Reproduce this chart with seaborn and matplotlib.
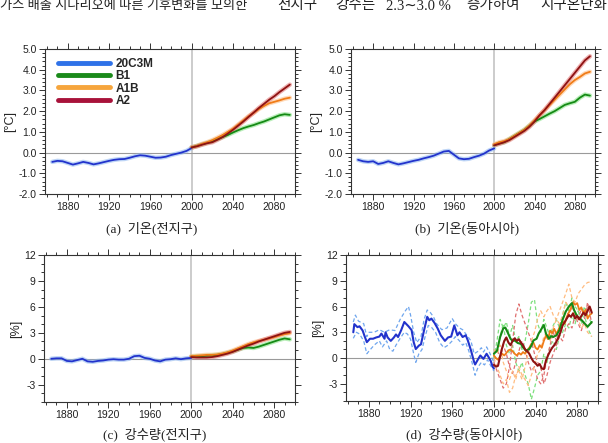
import numpy as np
import pandas as pd
import matplotlib
matplotlib.use("Agg")
import matplotlib.pyplot as plt
from matplotlib.ticker import MultipleLocator, FormatStrFormatter
from matplotlib.lines import Line2D
import seaborn as sns

# --- DATA ---
hist_years = [1865, 1870, 1875, 1880, 1885, 1890, 1895, 1900, 1905, 1910, 1915, 1920, 1925, 1930,
              1935, 1940, 1945, 1950, 1955, 1960, 1965, 1970, 1975, 1980, 1985, 1990, 1995, 2000]
fut_years = [2000, 2005, 2010, 2015, 2020, 2025, 2030, 2035, 2040, 2045, 2050, 2055, 2060, 2065,
             2070, 2075, 2080, 2085, 2090, 2095]

# (a) global temperature [degC]
temp_glob_hist = [-0.45, -0.4, -0.42, -0.5, -0.58, -0.52, -0.45, -0.5, -0.57, -0.52, -0.46, -0.4, -0.35, -0.32,
                  -0.31, -0.25, -0.18, -0.13, -0.15, -0.2, -0.25, -0.24, -0.2, -0.12, -0.06, 0.0, 0.08, 0.22]
temp_glob_b1 = [0.25, 0.32, 0.4, 0.47, 0.55, 0.65, 0.75, 0.85, 0.97, 1.08, 1.18, 1.26, 1.33, 1.42,
                1.5, 1.6, 1.7, 1.8, 1.85, 1.82]
temp_glob_a1b = [0.25, 0.32, 0.42, 0.5, 0.6, 0.72, 0.85, 1.0, 1.15, 1.35, 1.55, 1.75, 1.92, 2.1,
                 2.25, 2.38, 2.45, 2.52, 2.6, 2.65]
temp_glob_a2 = [0.25, 0.3, 0.38, 0.45, 0.5, 0.62, 0.75, 0.92, 1.1, 1.3, 1.5, 1.72, 1.93, 2.15,
                2.35, 2.55, 2.72, 2.92, 3.1, 3.28]

# (b) East Asia temperature [degC]
temp_ea_hist = [-0.35, -0.42, -0.45, -0.42, -0.55, -0.5, -0.42, -0.5, -0.57, -0.52, -0.46, -0.4, -0.35, -0.28,
                -0.22, -0.15, -0.05, 0.05, 0.08, -0.1, -0.28, -0.32, -0.3, -0.22, -0.15, -0.05, 0.1, 0.2]
temp_ea_b1 = [0.35, 0.45, 0.5, 0.65, 0.8, 0.95, 1.1, 1.3, 1.5, 1.62, 1.75, 1.88, 2.0, 2.15,
              2.3, 2.38, 2.45, 2.65, 2.8, 2.75]
temp_ea_a1b = [0.4, 0.5, 0.55, 0.65, 0.8, 0.95, 1.1, 1.3, 1.55, 1.8, 2.05, 2.3, 2.55, 2.8,
               3.05, 3.3, 3.5, 3.65, 3.82, 3.9]
temp_ea_a2 = [0.35, 0.42, 0.5, 0.6, 0.75, 0.9, 1.05, 1.25, 1.5, 1.8, 2.05, 2.35, 2.65, 2.95,
              3.25, 3.55, 3.85, 4.15, 4.45, 4.65]

# (c) global precipitation [%]
prcp_glob_hist = [0.0, 0.05, 0.05, -0.25, -0.3, -0.15, 0.0, -0.3, -0.35, -0.25, -0.2, -0.1, -0.05, -0.1,
                  -0.1, 0.0, 0.3, 0.35, 0.1, 0.0, -0.2, -0.3, -0.1, -0.05, 0.05, -0.05, 0.05, 0.1]
prcp_glob_b1 = [0.25, 0.3, 0.3, 0.35, 0.4, 0.45, 0.55, 0.7, 0.85, 1.05, 1.25, 1.3, 1.25, 1.4,
                1.6, 1.8, 2.0, 2.2, 2.35, 2.25]
prcp_glob_a1b = [0.3, 0.35, 0.4, 0.45, 0.45, 0.5, 0.6, 0.75, 0.95, 1.2, 1.45, 1.7, 1.9, 2.05,
                 2.2, 2.35, 2.5, 2.7, 2.85, 2.95]
prcp_glob_a2 = [0.2, 0.15, 0.15, 0.15, 0.2, 0.3, 0.45, 0.6, 0.8, 1.05, 1.3, 1.55, 1.75, 2.0,
                2.2, 2.4, 2.6, 2.8, 3.0, 3.1]

# (d) East Asia precipitation [%] -- ensemble mean + members
prcp_ea_hist_years = [1865, 1866, 1869, 1871, 1874, 1876, 1878, 1881, 1884, 1887, 1890, 1892, 1895, 1896,
                      1898, 1901, 1904, 1906, 1908, 1911, 1914, 1916, 1918, 1921, 1923, 1925, 1928, 1930,
                      1933, 1936, 1938, 1940, 1943, 1946, 1949, 1953, 1956, 1959, 1962, 1965, 1967, 1970,
                      1973, 1975, 1978, 1981, 1982, 1985, 1987, 1990, 1993, 1995, 1997, 1999, 2000]
prcp_ea_hist = [3.0, 3.95, 3.6, 3.7, 3.2, 2.5, 1.85, 2.25, 2.25, 2.4, 2.5, 2.85, 2.25, 3.0,
                2.4, 2.0, 2.4, 2.75, 2.45, 3.25, 4.2, 3.95, 3.7, 3.25, 1.85, 1.05, 1.45, 1.6,
                3.25, 4.8, 4.4, 4.6, 4.1, 3.45, 2.65, 2.0, 2.4, 2.5, 3.8, 2.65, 3.0, 2.45,
                2.65, 2.05, 0.9, -0.45, -0.75, -0.1, 0.3, -0.1, 0.5, 0.1, -0.35, -1.05, -1.2]
prcp_ea_mem1_years = [1865, 1867, 1870, 1875, 1878, 1880, 1885, 1890, 1895, 1900, 1905, 1910, 1915, 1918,
                      1920, 1923, 1926, 1930, 1933, 1936, 1939, 1942, 1945, 1950, 1955, 1960, 1963, 1967,
                      1970, 1975, 1978, 1981, 1985, 1988, 1990, 1993, 1996, 2000]
prcp_ea_mem1 = [4.2, 5.0, 4.3, 4.0, 2.5, 3.0, 3.0, 3.3, 3.0, 3.3, 3.2, 4.5, 5.5, 6.0,
                5.0, 3.0, 1.8, 2.5, 4.5, 5.6, 5.3, 4.8, 4.0, 3.3, 3.5, 4.6, 4.0, 3.5,
                3.3, 2.5, 2.0, 0.5, 0.8, 1.2, 0.7, 1.3, 0.6, -0.5]
prcp_ea_mem2_years = [1865, 1868, 1871, 1875, 1878, 1880, 1885, 1890, 1893, 1897, 1900, 1903, 1906, 1910,
                      1914, 1917, 1920, 1923, 1925, 1928, 1931, 1934, 1937, 1940, 1944, 1948, 1952, 1956,
                      1960, 1963, 1967, 1970, 1973, 1976, 1979, 1982, 1985, 1988, 1991, 1994, 1997, 2000]
prcp_ea_mem2 = [2.3, 3.0, 2.8, 2.0, 0.5, 0.8, 1.5, 2.0, 1.3, 2.0, 1.0, 0.8, 1.5, 2.3,
                3.0, 2.8, 2.2, 0.5, -0.5, 0.5, 1.0, 2.5, 3.8, 3.6, 3.0, 1.8, 1.2, 1.5,
                2.0, 2.5, 2.0, 1.5, 1.8, 0.8, -0.5, -2.0, -1.0, -0.5, -0.8, -0.2, -0.9, -1.5]

prcp_ea_b1_years = [2000, 2003, 2006, 2009, 2011, 2013, 2016, 2018, 2020, 2023, 2026, 2028, 2031, 2034,
                    2036, 2038, 2041, 2043, 2046, 2048, 2050, 2053, 2055, 2057, 2060, 2063, 2066, 2069,
                    2072, 2075, 2077, 2080, 2084, 2087, 2090, 2093, 2094]
prcp_ea_b1 = [0.5, 0.85, 2.45, 3.45, 3.55, 3.05, 2.25, 2.0, 2.05, 1.75, 1.65, 1.25, 0.85, 1.05,
              1.45, 2.05, 2.25, 2.85, 3.45, 3.85, 2.85, 2.25, 2.55, 2.45, 2.65, 3.25, 4.45, 5.4,
              6.0, 6.4, 5.6, 4.85, 4.45, 4.05, 3.65, 4.05, 4.2]
prcp_ea_main_years = list(range(2000, 2095, 2))
prcp_ea_a1b = [0.3, 0.0, -0.2, 0.2, 0.5, 0.3, 0.6, 0.9, 1.0, 0.8, 0.5, 0.3, 0.6, 0.4, 0.7, 0.5,
               0.9, 1.2, 1.6, 1.8, 1.2, 1.0, 1.5, 1.2, 2.0, 2.6, 2.2, 3.2, 2.9, 3.4, 2.8, 3.3,
               3.8, 4.3, 4.0, 4.8, 5.3, 5.8, 6.5, 6.2, 6.4, 5.6, 5.9, 5.2, 5.6, 4.6, 5.0, 5.2]
prcp_ea_a2 = [-0.8, -1.0, -0.9, 0.2, 1.2, 2.0, 2.4, 1.8, 1.5, 2.0, 2.3, 2.0, 2.2, 1.8, 1.5, 1.0,
              0.8, 0.5, 0.0, -0.4, -0.6, -0.9, -0.7, -1.2, -1.3, -0.3, 0.3, 0.8, 1.2, 1.5, 1.9, 2.4,
              3.0, 3.8, 4.2, 4.6, 5.0, 4.8, 5.2, 4.6, 4.9, 4.5, 4.9, 5.3, 5.0, 5.5, 6.0, 5.3]

prcp_ea_mem_years = list(range(2000, 2091, 3)) + [2094]
prcp_ea_b1_mem1 = [0.0, 2.0, 4.5, 3.5, 4.2, 2.5, 3.8, 2.0, 2.5, 1.0, 2.0, 4.0, 6.5, 6.8, 4.0, 3.0,
                   4.5, 3.5, 2.5, 3.8, 4.5, 3.5, 5.0, 6.5, 5.5, 7.0, 6.0, 5.5, 4.0, 5.0, 3.5, 2.5]
prcp_ea_b1_mem2 = [1.0, 0.5, 2.5, 4.0, 1.5, 0.5, 1.5, -0.5, -1.5, -0.5, -2.0, -3.0, -4.8, -3.5, -2.0, -1.5,
                   0.5, -0.5, 1.5, 2.0, 1.0, 2.5, 3.0, 4.0, 3.5, 5.0, 4.0, 5.5, 4.5, 6.0, 5.0, 4.0]
prcp_ea_a2_mem1 = [-0.5, -1.5, -2.5, -3.5, -3.0, -1.0, 2.0, 5.0, 6.3, 5.0, 4.0, 3.0, 2.0, 0.5, -0.5, -1.0,
                   -3.0, -2.0, -0.5, 0.5, 1.5, 2.5, 2.0, 3.5, 4.0, 3.5, 5.0, 4.0, 3.2, 4.5, 6.5, 4.0]
prcp_ea_a2_mem2 = [0.5, 1.0, 0.0, 1.5, 0.5, -1.0, -1.8, -0.5, 0.8, 2.0, 1.0, -0.5, -1.5, -1.0, -2.5, -3.0,
                   -2.0, 0.0, 1.5, 3.0, 2.0, 3.8, 4.5, 5.5, 5.0, 6.0, 5.2, 4.5, 5.8, 5.0, 6.0, 5.5]
prcp_ea_a1b_mem1 = [0.0, -1.0, -2.0, -3.0, -2.5, -4.0, -3.5, -2.0, -1.5, -2.5, -1.0, 0.5, 2.0, 3.0, 4.5, 5.5,
                    4.8, 5.5, 6.0, 5.0, 4.5, 5.5, 6.5, 7.5, 8.6, 7.0, 6.5, 7.5, 8.0, 8.5, 8.8, 8.9]
prcp_ea_a1b_mem2 = [1.0, 0.5, 1.5, -0.5, -1.5, -2.5, -1.5, -2.5, -1.0, -2.0, -2.5, -3.2, -2.0, -1.0, 0.5, 1.0,
                    2.5, 3.0, 2.0, 3.5, 4.5, 4.0, 5.0, 6.5, 6.0, 5.5, 5.0, 4.5, 3.5, 4.0, 3.0, 2.5]

scenarios = ["20C3M", "B1", "A1B", "A2"]
captions = ["(a)  기온(전지구)", "(b)  기온(동아시아)", "(c)  강수량(전지구)", "(d)  강수량(동아시아)"]
top_text_left = "가스 배출 시나리오에 따른 기후변화를 모의한"
top_text_right = ["전지구", "강수는", "2.3∼3.0 %", "증가하여", "지구온난화"]

# --- STYLE ---
sns.set_style("ticks")
plt.rcParams["font.family"] = ["Liberation Sans", "DejaVu Sans"]
plt.rcParams["axes.unicode_minus"] = False
KR_FONT = ["Liberation Serif", "Noto Sans CJK KR", "DejaVu Sans"]

main_col = {"20C3M": "#2233cc", "B1": "#158a15", "A1B": "#f07c18", "A2": "#8e1212"}
halo_col = {"20C3M": "#8ab4f0", "B1": "#7ee07e", "A1B": "#ffbc80", "A2": "#e07070"}
legend_col = {"20C3M": "#2f72e8", "B1": "#1a8a1a", "A1B": "#f6a53c", "A2": "#a8123a"}

fig = plt.figure(figsize=(6.08, 4.43), dpi=100)


def px_axes(x0, y0, x1, y1):
    # pixel box (top-left origin) -> figure fraction
    return fig.add_axes([x0 / 608, 1 - y1 / 443, (x1 - x0) / 608, (y1 - y0) / 443])


def style_axes(ax, ylim, ymajor, yminor, fmt, ylabel):
    ax.set_xlim(1858, 2100)
    ax.set_ylim(*ylim)
    ax.set_xticks([1880, 1920, 1960, 2000, 2040, 2080])
    ax.xaxis.set_minor_locator(MultipleLocator(10))
    ax.yaxis.set_major_locator(MultipleLocator(ymajor))
    ax.yaxis.set_minor_locator(MultipleLocator(yminor))
    ax.yaxis.set_major_formatter(FormatStrFormatter(fmt))
    ax.tick_params(which="both", direction="out", top=True, right=True,
                   labelsize=7.5, labelcolor="#222222", width=0.7, color="#333333")
    ax.tick_params(which="major", length=4, pad=2)
    ax.tick_params(which="minor", length=2)
    for s in ax.spines.values():
        s.set_linewidth(0.8)
        s.set_color("#333333")
    ax.axvline(2000, color="#c4c4c4", lw=1.2, zorder=0)
    ax.axhline(0, color="#9a9a9a", lw=0.8, zorder=0)
    ax.set_xlabel("")
    ax.set_ylabel(ylabel, fontsize=9, labelpad=1.5)


def smooth_panel(ax, hist, b1, a1b, a2):
    series = [("20C3M", hist_years, hist), ("B1", fut_years, b1),
              ("A1B", fut_years, a1b), ("A2", fut_years, a2)]
    for name, x, y in series:
        sns.lineplot(x=x, y=y, ax=ax, color=halo_col[name], lw=3.2, alpha=0.55)
    for name, x, y in series:
        sns.lineplot(x=x, y=y, ax=ax, color=main_col[name], lw=1.3)


# --- (a) ---
ax_a = px_axes(45, 49, 295, 194)
smooth_panel(ax_a, temp_glob_hist, temp_glob_b1, temp_glob_a1b, temp_glob_a2)
style_axes(ax_a, (-2, 5), 1.0, 0.2, "%.1f", "[°C]")
handles = [Line2D([], [], color=legend_col[s], lw=3.5, solid_capstyle="round") for s in scenarios]
ax_a.legend(handles, scenarios, loc="upper left", bbox_to_anchor=(0.035, 0.97), frameon=False,
            handlelength=4.4, handletextpad=0.45, labelspacing=0.02, borderaxespad=0,
            prop={"weight": "bold", "size": 8.5})

# --- (b) ---
ax_b = px_axes(351, 49, 595, 194)
smooth_panel(ax_b, temp_ea_hist, temp_ea_b1, temp_ea_a1b, temp_ea_a2)
style_axes(ax_b, (-2, 5), 1.0, 0.2, "%.1f", "[°C]")

# --- (c) ---
ax_c = px_axes(44, 255, 295, 402)
smooth_panel(ax_c, prcp_glob_hist, prcp_glob_b1, prcp_glob_a1b, prcp_glob_a2)
style_axes(ax_c, (-5, 12), 3, 1, "%d", "[%]")

# --- (d) ---
ax_d = px_axes(346, 255, 598, 401)
dash = (3, 2)
for x, y in [(prcp_ea_mem1_years, prcp_ea_mem1), (prcp_ea_mem2_years, prcp_ea_mem2)]:
    sns.lineplot(x=x, y=y, ax=ax_d, color="#6fa6ee", lw=0.9).lines[-1].set_dashes(dash)
members = [("B1", prcp_ea_b1_mem1), ("B1", prcp_ea_b1_mem2), ("A2", prcp_ea_a2_mem1),
           ("A2", prcp_ea_a2_mem2), ("A1B", prcp_ea_a1b_mem1), ("A1B", prcp_ea_a1b_mem2)]
for name, y in members:
    sns.lineplot(x=prcp_ea_mem_years, y=y, ax=ax_d, color=halo_col[name], lw=0.9).lines[-1].set_dashes(dash)
sns.lineplot(x=prcp_ea_hist_years, y=prcp_ea_hist, ax=ax_d, color=main_col["20C3M"], lw=1.5)
sns.lineplot(x=prcp_ea_main_years, y=prcp_ea_a1b, ax=ax_d, color=main_col["A1B"], lw=1.3)
sns.lineplot(x=prcp_ea_b1_years, y=prcp_ea_b1, ax=ax_d, color=main_col["B1"], lw=1.5)
sns.lineplot(x=prcp_ea_main_years, y=prcp_ea_a2, ax=ax_d, color=main_col["A2"], lw=1.5)
style_axes(ax_d, (-5, 12), 3, 1, "%d", "[%]")

# --- captions ---
for (cx, cy), txt in zip([(152, 228), (467, 228), (155, 434), (464, 434)], captions):
    fig.text(cx / 608, 1 - cy / 443, txt, ha="center", va="center", fontsize=9.5,
             family=KR_FONT, color="#222222")
fig.text(0.0, 1 - 6 / 443, top_text_left, ha="left", va="center", fontsize=9.5,
         family=KR_FONT, color="#222222")
# second column of the page text: words spread out (justified)
for wx, word in zip([277, 335, 386, 466, 540], top_text_right):
    fig.text(wx / 608, 1 - 6 / 443, word, ha="left", va="center", fontsize=10.5,
             family=KR_FONT, color="#222222")

plt.savefig("out.png", dpi=100)
